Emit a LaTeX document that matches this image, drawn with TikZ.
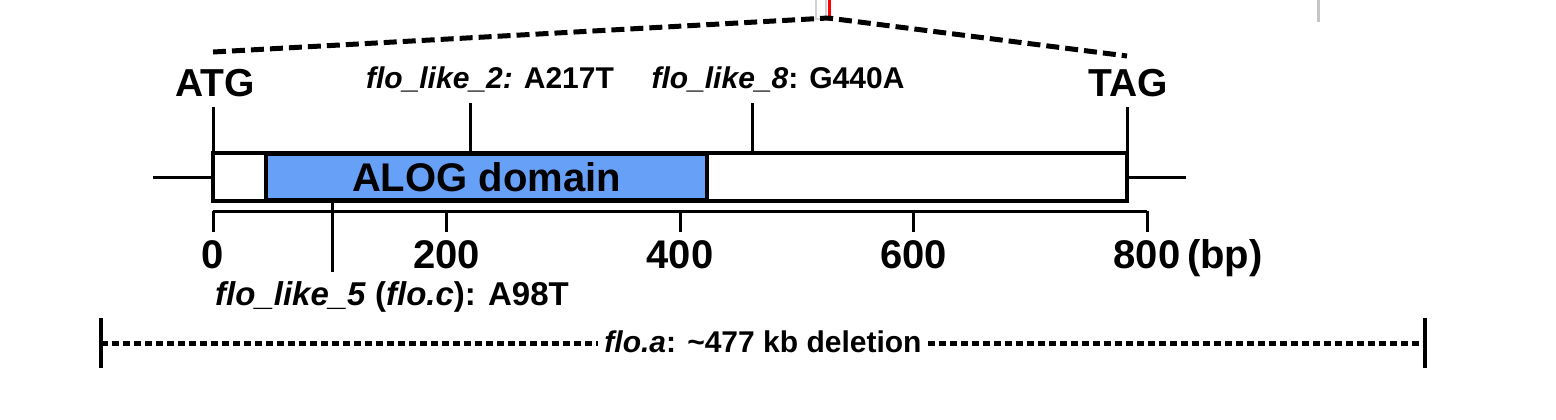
\documentclass[tikz,border=0pt]{standalone}
\usepackage{fontspec}
\setmainfont{Liberation Sans}
\usetikzlibrary{positioning}
\definecolor{alogblue}{RGB}{102,160,247}

\begin{document}
\begin{tikzpicture}[x=0.5pt,y=-0.5pt,
        site/.style={font=\fontsize{15}{18}\selectfont\bfseries,inner sep=0pt,anchor=base},
        codon/.style={font=\fontsize{19.5}{22}\selectfont\bfseries,inner sep=0pt,anchor=base},
        ticklabel/.style={font=\fontsize{20}{24}\selectfont\bfseries,inner sep=0pt,anchor=base},
        genebox/.style={draw,line width=2pt,inner sep=0pt,outer sep=0pt},
        tickline/.style={line width=1.5pt},
        zoomline/.style={line width=2.5pt,dash pattern=on 6.5pt off 3pt},
        delline/.style={line width=2.5pt,dash pattern=on 3.5pt off 2pt}]
        \useasboundingbox (0,0) rectangle (1556,419);
        % cropped bits of the figure above
        \draw[gray!35,line width=1pt] (816,-2) rectangle (826,19);
        \draw[red,line width=1.5pt] (829,0) -- (829,21);
        \draw[gray!45,line width=1.5pt] (1318,0) -- (1318,22);
        % gene
        \coordinate (up5) at (153,177);
        \coordinate (down3) at (1186,177);
        \node[genebox,minimum width=457pt,minimum height=24pt] (gene) at (670,177) {};
        \node[genebox,fill=alogblue,minimum width=220.5pt,minimum height=23pt,
              font=\fontsize{20}{24}\selectfont\bfseries] (alog) at (486.5,177) {ALOG domain};
        \draw[tickline] (up5) -- (gene.west);
        \draw[tickline] (gene.east) -- (down3);
        % start and stop codons
        \node[codon] (atg) at (215,96) {ATG};
        \node[codon] (tag) at (1128,96) {TAG};
        \coordinate (atgtop) at (213,107);
        \coordinate (tagtop) at (1127,107);
        \draw[tickline] (gene.north west) -- (atgtop);
        \draw[tickline] (gene.north east) -- (tagtop);
        % mutations
        \node[site] (fl2) at (490,88) {\textit{flo\_like\_2:} A217T};
        \node[site] (fl8) at (778,88) {\textit{flo\_like\_8}: G440A};
        \node[site,font=\fontsize{16.5}{19}\selectfont\bfseries] (fl5) at (392,305) {\textit{flo\_like\_5} (\textit{flo.c}): A98T};
        \coordinate (m2top) at (470,103);
        \coordinate (m2) at (470,153);
        \coordinate (m8top) at (752,103);
        \coordinate (m8) at (752,153);
        \coordinate (m5) at (332,201);
        \coordinate (m5bot) at (332,272);
        \draw[tickline] (m2) -- (m2top);
        \draw[tickline] (m8) -- (m8top);
        \draw[tickline] (m5) -- (m5bot);
        % scale in bp
        \coordinate (s0) at (213,211);
        \coordinate (s800) at (1147,211);
        \draw[tickline] (s0) -- (s800);
        \foreach \v in {0,200,400,600,800} {
            \draw[tickline] (213+1.1675*\v,211) -- (213+1.1675*\v,232);
            \node[ticklabel] (t\v) at (213+1.1675*\v,268) {\v};
        }
        \node[ticklabel,anchor=base west] (bp) at ([xshift=3pt]t800.base east) {(bp)};
        % zoom lines
        \coordinate (zl) at (213,52);
        \coordinate (zapex) at (828,18);
        \coordinate (zr) at (1127,56);
        \draw[zoomline] (zl) -- (zapex) -- (zr);
        % deletion
        \coordinate (dl) at (101,343);
        \coordinate (dr) at (1425,343);
        \node[site,inner xsep=3pt] (dele) at (763,352) {\textit{flo.a}: \textasciitilde477 kb deletion};
        \draw[line width=2pt] ([yshift=12.5pt]dl) -- ([yshift=-12.5pt]dl);
        \draw[line width=2pt] ([yshift=12.5pt]dr) -- ([yshift=-12.5pt]dr);
        \draw[delline] (dl) -- (dele.west |- dl);
        \draw[delline] (dele.east |- dr) -- (dr);
    \end{tikzpicture}
\end{document}
